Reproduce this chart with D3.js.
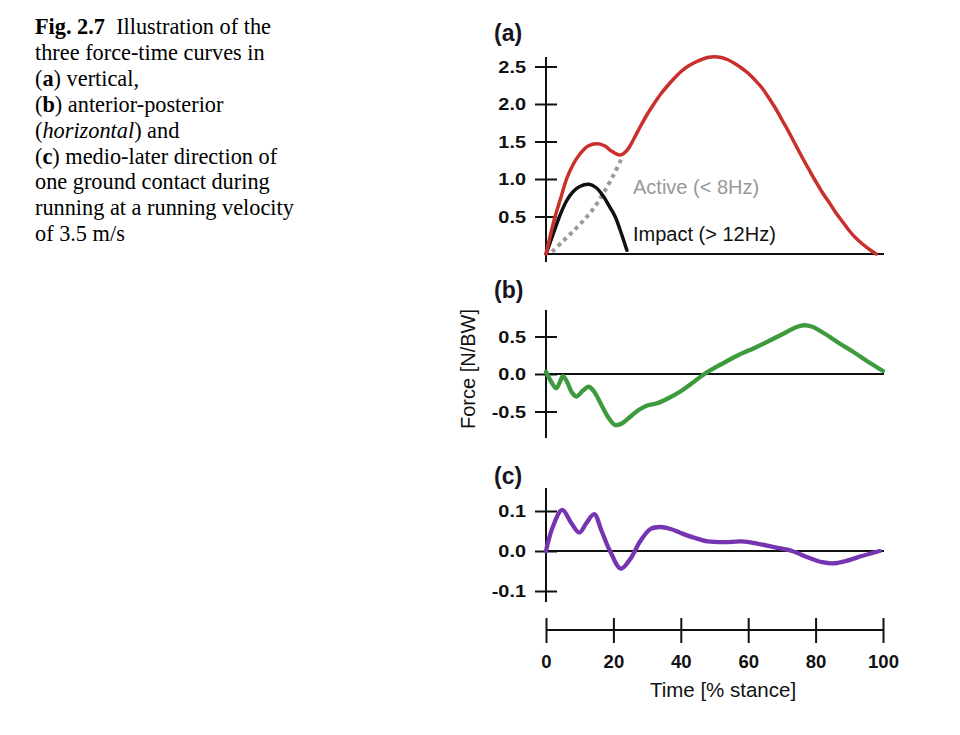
<!DOCTYPE html>
<html><head><meta charset="utf-8">
<script src="https://cdn.jsdelivr.net/npm/d3@7/dist/d3.min.js"></script>
<style>body{margin:0;background:#fff}svg{display:block}</style>
</head><body>
<svg id="c" width="960" height="735"></svg>
<script>
// ---------- data ----------
const xTicks = [0, 20, 40, 60, 80, 100];
const aTicks = [0.5, 1.0, 1.5, 2.0, 2.5];
const bTicks = [0.5, 0.0, -0.5];
const cTicks = [0.1, 0.0, -0.1];

// (a) vertical force [t%, N/BW]
const vertical = [[0,0],[1.3,0.25],[2.7,0.5],[4.4,0.75],[6.1,1.0],[8,1.19],[10,1.33],[12.5,1.44],[15.3,1.47],[17.5,1.44],[19.5,1.37],[22,1.32],[24,1.38],[26,1.53],[28,1.70],[30,1.86],[32,2.0],[34,2.13],[36,2.24],[38,2.34],[40,2.43],[42,2.50],[44,2.55],[46,2.59],[48,2.62],[50,2.63],[52,2.62],[54,2.59],[56,2.54],[58,2.48],[60,2.41],[62,2.32],[64,2.22],[66,2.09],[68,1.95],[70,1.79],[72,1.63],[74,1.46],[76,1.29],[78,1.13],[80,0.97],[82,0.82],[84,0.69],[86,0.55],[88,0.43],[90,0.31],[92,0.21],[94,0.13],[96,0.06],[98,0.0]];
const impact = [[0,0],[2,0.25],[4,0.5],[6,0.7],[8,0.83],[10,0.9],[12.8,0.93],[15,0.88],[17,0.77],[19,0.62],[20.5,0.5],[22,0.32],[24,0.05]];
const active = [[1.8,0.03],[5,0.17],[8,0.3],[11,0.44],[14,0.6],[17,0.81],[20,1.05],[22.5,1.28]];
// (b) anterior-posterior
const antpost = [[0,0.03],[1.5,-0.1],[3,-0.19],[4,-0.12],[5,-0.03],[6.2,-0.1],[7.6,-0.24],[9,-0.3],[11,-0.22],[12.6,-0.17],[14.2,-0.23],[16.3,-0.4],[18.5,-0.58],[20.5,-0.68],[22.5,-0.66],[25,-0.57],[27.5,-0.48],[30,-0.42],[33,-0.39],[36,-0.33],[40,-0.23],[44,-0.1],[47,0.0],[52,0.13],[57,0.25],[62,0.35],[67,0.46],[71,0.55],[74,0.62],[76.5,0.65],[79,0.63],[83,0.53],[87,0.41],[91,0.3],[95,0.18],[100,0.04]];
// (c) medio-lateral
const mediolat = [[0,0],[2,0.06],[4.8,0.103],[7.5,0.07],[9.9,0.046],[12,0.07],[14.3,0.092],[16.5,0.05],[19,0.0],[22.2,-0.044],[25,-0.02],[28,0.025],[31,0.055],[34,0.06],[37,0.055],[40,0.045],[44,0.033],[48,0.024],[53,0.022],[58,0.024],[63,0.018],[68,0.009],[73,0.0],[78,-0.017],[82,-0.028],[85,-0.031],[89,-0.025],[94,-0.012],[99,0.0]];

const captionLines = [
  [["Fig. 2.7","b"],["\u2002Illustration of the",""]],
  [["three force-time curves in",""]],
  [["(",""],["a","b"],[") vertical,",""]],
  [["(",""],["b","b"],[") anterior-posterior",""]],
  [["(",""],["horizontal","i"],[") and",""]],
  [["(",""],["c","b"],[") medio-later direction of",""]],
  [["one ground contact during",""]],
  [["running at a running velocity",""]],
  [["of 3.5 m/s",""]]
];

// ---------- drawing ----------
const svg = d3.select("#c");
const sans = "'Liberation Sans', Arial, sans-serif";
const ink = "#111";

// caption
const cap = svg.append("g").attr("font-family","'Liberation Serif','Times New Roman',serif")
  .attr("font-size",22.3).attr("fill","#000");
captionLines.forEach((ln,i)=>{
  const t = cap.append("text").attr("x",35).attr("y",34+i*25.9);
  ln.forEach(([s,st])=>{
    const sp = t.append("tspan").text(s);
    if(st==="b") sp.attr("font-weight","bold");
    if(st==="i") sp.attr("font-style","italic");
  });
});

const x = d3.scaleLinear().domain([0,100]).range([546,883]);
const ya = d3.scaleLinear().domain([0,2.5]).range([254,66.5]);
const yb = d3.scaleLinear().domain([-0.5,0.5]).range([411.5,336.5]);
const yc = d3.scaleLinear().domain([-0.1,0.1]).range([591,511]);

const fmt1 = d => d3.format(".1f")(d).replace("\u2212","-");

function yAxis(scale, ticks, top, bottom){
  const g = svg.append("g").attr("transform",`translate(${x(0)},0)`);
  g.call(d3.axisLeft(scale).tickValues(ticks).tickFormat(fmt1).tickSize(0));
  g.select(".domain").remove();
  g.selectAll(".tick line").attr("x1",-11).attr("x2",11).attr("stroke",ink).attr("stroke-width",2);
  g.selectAll(".tick text").attr("x",0).attr("dy","0.36em")
    .attr("transform","translate(-20,0) scale(1.22,1)")
    .attr("font-family",sans).attr("font-weight","bold").attr("font-size",16.3).attr("fill",ink);
  g.append("line").attr("x1",0).attr("x2",0).attr("y1",top).attr("y2",bottom)
    .attr("stroke",ink).attr("stroke-width",2);
}
function hLine(y){
  svg.append("line").attr("x1",x(0)).attr("x2",x(100)+1).attr("y1",y).attr("y2",y)
    .attr("stroke",ink).attr("stroke-width",2);
}
hLine(ya(0)); hLine(yb(0)); hLine(yc(0));
yAxis(ya, aTicks, 57, 262);
yAxis(yb, bTicks, 310, 438);
yAxis(yc, cTicks, 488, 602);

// x axis
const xg = svg.append("g").attr("transform","translate(0,630)");
xg.call(d3.axisBottom(x).tickValues(xTicks).tickFormat(d3.format("d")).tickSize(0));
xg.select(".domain").remove();
xg.append("line").attr("x1",x(0)).attr("x2",x(100)).attr("y1",0).attr("y2",0).attr("stroke",ink).attr("stroke-width",2);
xg.selectAll(".tick line").attr("y1",-12).attr("y2",13).attr("stroke",ink).attr("stroke-width",2);
xg.selectAll(".tick text").attr("y",38).attr("dy",0)
  .attr("font-family",sans).attr("font-weight","bold").attr("font-size",18.5).attr("fill",ink);

// panel labels
[["(a)",41],["(b)",298],["(c)",484]].forEach(([s,y])=>{
  svg.append("text").attr("x",494).attr("y",y).text(s)
    .attr("font-family",sans).attr("font-weight","bold").attr("font-size",23).attr("fill","#15151f");
});

// axis titles
svg.append("text").attr("x",723).attr("y",697).attr("text-anchor","middle")
  .attr("font-family",sans).attr("font-size",20.5).attr("fill",ink).text("Time [% stance]");
svg.append("text").attr("transform","translate(475,369) rotate(-90)").attr("text-anchor","middle")
  .attr("font-family",sans).attr("font-size",20).attr("fill",ink).text("Force [N/BW]");

// curves
function curve(data, y, color, w, dash){
  const line = d3.line().x(d=>x(d[0])).y(d=>y(d[1])).curve(d3.curveCatmullRom.alpha(0.5));
  const p = svg.append("path").datum(data).attr("d",line).attr("fill","none")
    .attr("stroke",color).attr("stroke-width",w).attr("stroke-linejoin","round").attr("stroke-linecap", dash?"butt":"round");
  if(dash) p.attr("stroke-dasharray",dash);
}
curve(active, ya, "#9a9a9a", 4, "4,4");
curve(impact, ya, "#111", 3.5);
curve(vertical, ya, "#c9302c", 3.5);
curve(antpost, yb, "#3d9a3d", 4.3);
curve(mediolat, yc, "#7535b0", 4.3);

// annotations
svg.append("text").attr("x",633).attr("y",194).text("Active (< 8Hz)")
  .attr("font-family",sans).attr("font-size",20).attr("fill","#999");
svg.append("text").attr("x",633).attr("y",241).text("Impact (> 12Hz)")
  .attr("font-family",sans).attr("font-size",20).attr("fill",ink);
</script>
</body></html>
